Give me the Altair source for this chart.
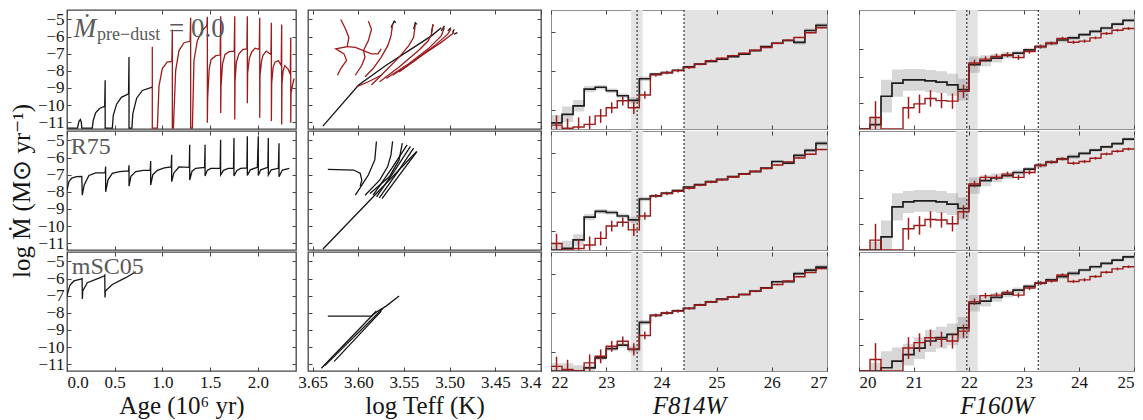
import altair as alt
import pandas as pd

FONT = "Liberation Serif"
INK = "#151515"
RED = "#9d1b1b"
FRAME = "#454545"
LABEL_GRAY = "#5a5a5a"

# ---------------- tick values ----------------
AGE_TICKS = [0.0, 0.5, 1.0, 1.5, 2.0]
MDOT_TICKS = [-5, -6, -7, -8, -9, -10, -11]
TEFF_TICKS = [3.65, 3.60, 3.55, 3.50, 3.45, 3.40]
F814_TICKS = [22, 23, 24, 25, 26, 27]
F160_TICKS = [20, 21, 22, 23, 24, 25]
F814_YTICKS = [0.5, 1.5, 2.5]
F160_YTICKS = [0.47, 0.96, 1.47]

# ---------------- column 1: log Mdot vs age ----------------
AGE_1_BLACK = [0.00, 0.11, 0.125, 0.14, 0.15, 0.155, 0.265, 0.275, 0.30, 0.34, 0.395, 0.40, 0.40,
               0.475, 0.485, 0.52, 0.57, 0.645, 0.65, 0.65, 0.68, 0.69, 0.73, 0.79, 0.894]
MDOT_1_BLACK = [-11.35, -11.35, -10.95, -10.85, -11.0, -11.35, -11.35, -10.9, -10.45, -10.2, -10.07, -8.55, -11.35,
                -11.35, -10.6, -9.95, -9.55, -9.35, -7.2, -11.35, -11.35, -10.5, -9.6, -9.15, -8.95]
AGE_1_RED = [0.894, 0.894, 0.894, 0.947, 0.964, 0.999, 1.05, 1.099, 1.104, 1.104,
             1.115, 1.139, 1.174, 1.226, 1.29, 1.296, 1.296, 1.314, 1.331, 1.366, 1.419, 1.465,
             1.471, 1.471, 1.474, 1.49, 1.51, 1.56, 1.605,
             1.611, 1.611, 1.614, 1.63, 1.656, 1.70, 1.752,
             1.758, 1.758, 1.761, 1.775, 1.803, 1.845, 1.885,
             1.890, 1.890, 1.893, 1.91, 1.936, 1.971, 2.015,
             2.020, 2.020, 2.023, 2.04, 2.054, 2.089, 2.137,
             2.142, 2.142, 2.145, 2.16, 2.18, 2.215, 2.245,
             2.250, 2.250, 2.253, 2.265, 2.282, 2.317, 2.34,
             2.345, 2.345, 2.348, 2.365, 2.38]
MDOT_1_RED = [-8.95, -6.6, -11.35, -11.35, -8.9, -7.87, -7.49, -7.45, -5.6, -11.35,
              -11.35, -7.97, -6.82, -6.36, -6.28, -4.9, -11.35, -11.35, -7.4, -6.24, -5.63, -5.38,
              -4.85, -11.03, -9.60, -7.9, -7.35, -7.12, -7.08,
              -4.81, -10.46, -8.93, -7.6, -7.05, -6.88, -6.85,
              -4.81, -10.84, -8.64, -7.5, -7.0, -6.75, -6.72,
              -4.81, -9.89, -8.16, -7.3, -6.9, -6.68, -6.75,
              -4.9, -10.75, -8.26, -7.4, -7.1, -6.85, -7.05,
              -5.19, -10.94, -8.74, -7.8, -7.5, -7.4, -7.7,
              -5.29, -11.13, -8.74, -8.0, -7.7, -7.9, -8.2,
              -6.05, -11.03, -9.31, -8.8, -8.45]
AGE_2 = [0.0, 0.02, 0.05, 0.10, 0.155, 0.16, 0.18, 0.23, 0.30, 0.40,
         0.405, 0.405, 0.43, 0.475, 0.55, 0.645, 0.65, 0.65, 0.67, 0.72, 0.80, 0.872,
         0.877, 0.877, 0.90, 0.947, 1.02, 1.092, 1.097, 1.097, 1.12, 1.174, 1.281,
         1.286, 1.286, 1.31, 1.349, 1.442, 1.447, 1.447, 1.47, 1.506, 1.605,
         1.61, 1.61, 1.64, 1.69, 1.745, 1.75, 1.75, 1.78, 1.82, 1.885,
         1.89, 1.89, 1.92, 1.995, 2.005, 2.005, 2.03, 2.105, 2.11, 2.11, 2.14, 2.215,
         2.222, 2.222, 2.257, 2.33]
MDOT_2 = [-7.9, -7.4, -7.2, -7.12, -7.1, -8.2, -7.6, -7.05, -6.9, -6.88,
          -6.53, -8.0, -7.3, -6.92, -6.82, -6.78, -6.45, -7.67, -7.1, -6.82, -6.75, -6.73,
          -6.2, -7.61, -7.0, -6.75, -6.6, -6.55, -5.84, -7.41, -6.9, -6.55, -6.57,
          -5.25, -7.31, -6.8, -6.63, -6.57, -5.25, -7.08, -6.75, -6.63, -6.63,
          -4.96, -7.02, -6.75, -6.63, -6.63, -4.86, -7.08, -6.75, -6.63, -6.6,
          -4.76, -7.05, -6.72, -6.57, -4.76, -7.05, -6.72, -6.57, -4.86, -7.02, -6.72, -6.63,
          -5.16, -7.12, -6.73, -6.63]
AGE_3 = [0.0, 0.004, 0.03, 0.073, 0.143, 0.158, 0.161, 0.165, 0.213, 0.335, 0.388, 0.396, 0.398,
         0.402, 0.475, 0.615, 0.72]
MDOT_3 = [-7.05, -6.92, -6.4, -6.14, -6.04, -6.0, -7.2, -6.73, -6.24, -5.98, -5.85, -5.8, -7.1,
          -6.73, -6.35, -5.95, -5.6]

# ---------------- column 2: log Mdot vs log Teff ----------------
HR1_BLACK = [
    ([3.6387, 3.5996, 3.5695, 3.5447, 3.5199, 3.5092], [-11.23, -8.83, -7.68, -6.82, -5.96, -5.48]),
    ([3.5642, 3.5606, 3.5589], [-5.48, -5.10, -5.19]),
    ([3.5394, 3.5376, 3.5358], [-5.57, -5.19, -5.29]),
    ([3.5199, 3.5181], [-5.77, -5.29]),
    ([3.5092, 3.5057], [-5.67, -5.38]),
    ([3.5021, 3.4986], [-5.67, -5.48]),
    ([3.4968, 3.4950], [-5.77, -5.57]),
    ([3.4950, 3.4915], [-5.86, -5.77]),
]
HR1_RED = [
    ([3.6227, 3.6191, 3.6128, 3.6156, 3.6245, 3.6121, 3.6103, 3.6138, 3.6191],
     [-8.26, -7.87, -7.39, -7.01, -6.72, -6.59, -6.05, -5.57, -5.00]),
    ([3.6121, 3.6032, 3.5943, 3.5855, 3.5784, 3.5748], [-6.59, -6.63, -6.82, -7.01, -7.01, -6.72]),
    ([3.6032, 3.5961, 3.5926, 3.5943, 3.5890, 3.5855, 3.5890], [-8.26, -7.68, -7.20, -6.82, -6.25, -5.57, -5.10]),
    ([3.5926, 3.5837, 3.5748, 3.5677, 3.5642, 3.5624], [-8.35, -7.87, -7.20, -6.53, -5.96, -5.29]),
    ([3.5855, 3.5695, 3.5553, 3.5447, 3.5394, 3.5376], [-8.83, -7.97, -7.20, -6.53, -6.05, -5.29]),
    ([3.5766, 3.5553, 3.5340, 3.5234, 3.5199, 3.5181], [-8.64, -7.78, -6.82, -6.25, -5.86, -5.29]),
    ([3.5695, 3.5447, 3.5234, 3.5092, 3.5057], [-8.45, -7.59, -6.72, -5.96, -5.48]),
    ([3.5624, 3.5376, 3.5163, 3.5021, 3.4986], [-8.26, -7.39, -6.53, -5.86, -5.57]),
    ([3.5553, 3.5305, 3.5092, 3.4950], [-8.07, -7.11, -6.34, -5.77]),
    ([3.6014, 3.5890, 3.5748], [-8.93, -8.64, -8.26]),
]
HR2_BLACK = [
    ([3.6386, 3.5854, 3.5360], [-11.34, -8.39, -5.65]),
    ([3.6333, 3.6050, 3.5979, 3.5961, 3.5979], [-6.69, -6.73, -6.92, -7.32, -7.67]),
    ([3.6032, 3.5961, 3.5890, 3.5819, 3.5801], [-8.20, -7.61, -7.02, -6.14, -5.06]),
    ([3.5926, 3.5766, 3.5678, 3.5642, 3.5624], [-8.20, -7.32, -6.53, -5.85, -5.06]),
    ([3.5872, 3.5660, 3.5553, 3.5518], [-8.10, -7.12, -6.14, -5.16]),
    ([3.5837, 3.5630, 3.5465], [-8.20, -6.60, -5.26]),
    ([3.5800, 3.5600, 3.5429], [-8.30, -6.75, -5.35]),
    ([3.5770, 3.5570, 3.5394], [-8.35, -6.85, -5.45]),
    ([3.5740, 3.5540, 3.5358], [-8.40, -6.95, -5.65]),
]
HR3_BLACK = [
    ([3.6404, 3.5837, 3.5784, 3.5695, 3.5553], [-11.24, -8.10, -7.90, -7.61, -7.02]),
    ([3.6369, 3.5731], [-11.10, -7.75]),
    ([3.6263, 3.5748], [-10.84, -7.90]),
    ([3.6333, 3.5855, 3.5801], [-8.19, -8.19, -7.90]),
]

# ---------------- columns 3-4: luminosity functions (log N per bin) ----------------
BIN_WIDTH = 0.2
F814_BINS = [22.1, 22.3, 22.5, 22.7, 22.9, 23.1, 23.3, 23.5, 23.7, 23.9, 24.1, 24.3, 24.5,
             24.7, 24.9, 25.1, 25.3, 25.5, 25.7, 25.9, 26.1, 26.3, 26.5, 26.7, 26.9]
F814_MODEL = [
    [0.16, 0.38, 0.60, 1.03, 1.08, 0.99, 0.86, 0.74, 1.30, 1.42, 1.46, 1.52, 1.61, 1.68, 1.75, 1.81, 1.87,
     1.94, 2.03, 2.13, 2.22, 2.29, 2.24, 2.55, 2.68],
    [0.0, 0.04, 0.26, 0.85, 1.0, 0.97, 0.88, 0.78, 1.32, 1.40, 1.47, 1.54, 1.63, 1.69, 1.77, 1.83, 1.90,
     1.97, 2.03, 2.12, 2.29, 2.25, 2.45, 2.58, 2.76],
    [0.0, 0.0, 0.0, 0.08, 0.34, 0.58, 0.67, 0.56, 1.26, 1.44, 1.50, 1.56, 1.62, 1.71, 1.79, 1.86, 1.92,
     1.98, 2.07, 2.15, 2.31, 2.31, 2.52, 2.61, 2.69],
]
F814_OBS = [
    [0.10, 0.02, 0.05, 0.12, 0.34, 0.55, 0.73, 0.55, 0.88, 1.40, 1.46, 1.51, 1.59, 1.68, 1.77, 1.83, 1.90,
     1.96, 2.04, 2.11, 2.22, 2.30, 2.37, 2.49, 2.62],
    [0.17, 0.0, 0.04, 0.13, 0.30, 0.62, 0.72, 0.52, 0.88, 1.40, 1.46, 1.52, 1.60, 1.68, 1.76, 1.82, 1.89,
     1.96, 2.04, 2.11, 2.20, 2.28, 2.38, 2.48, 2.60],
    [0.12, 0.04, 0.0, 0.21, 0.38, 0.64, 0.77, 0.56, 0.92, 1.44, 1.50, 1.55, 1.62, 1.71, 1.79, 1.85, 1.92,
     1.98, 2.06, 2.14, 2.24, 2.33, 2.44, 2.55, 2.65],
]
F814_SPREAD = [0.2, 0.2, 0.15, 0.08, 0.06, 0.06, 0.06, 0.08, 0.06, 0.04, 0.04, 0.04, 0.03, 0.03, 0.03,
               0.03, 0.03, 0.03, 0.03, 0.03, 0.04, 0.04, 0.05, 0.05, 0.06]
F814_ERR = [0.25, 0.25, 0.25, 0.22, 0.18, 0.14, 0.12, 0.16, 0.10, 0.05, 0.045, 0.04, 0.035, 0.03, 0.03,
            0.025, 0.025, 0.02, 0.02, 0.02, 0.02, 0.02, 0.015, 0.015, 0.015]
F814_SHADE_LO = [23.45, 24.41]
F814_SHADE_HI = [23.66, 27.0]
F814_DOTTED = [23.56, 24.41]

F160_BINS = [20.1, 20.3, 20.5, 20.7, 20.9, 21.1, 21.3, 21.5, 21.7, 21.9, 22.1, 22.3, 22.5,
             22.7, 22.9, 23.1, 23.3, 23.5, 23.7, 23.9, 24.1, 24.3, 24.5, 24.7, 24.9]
F160_MODEL = [
    [0.0, 0.08, 0.60, 0.84, 0.90, 0.90, 0.88, 0.86, 0.81, 0.72, 1.18, 1.25, 1.30, 1.35, 1.39, 1.45, 1.51,
     1.57, 1.63, 1.67, 1.73, 1.79, 1.85, 1.92, 1.99],
    [0.0, 0.0, 0.24, 0.79, 0.88, 0.90, 0.90, 0.88, 0.84, 0.76, 1.18, 1.27, 1.32, 1.36, 1.42, 1.48, 1.55,
     1.61, 1.67, 1.71, 1.77, 1.83, 1.89, 1.95, 2.03],
    [0.0, 0.0, 0.06, 0.18, 0.30, 0.42, 0.55, 0.61, 0.67, 0.79, 1.24, 1.28, 1.35, 1.41, 1.48, 1.55, 1.61,
     1.67, 1.73, 1.79, 1.85, 1.91, 1.97, 2.03, 2.09],
]
F160_OBS = [
    [0.0, 0.21, 0.0, 0.0, 0.39, 0.46, 0.56, 0.52, 0.51, 0.69, 1.21, 1.28, 1.33, 1.36, 1.31, 1.42, 1.51,
     1.57, 1.66, 1.59, 1.61, 1.67, 1.75, 1.81, 1.84],
    [0.0, 0.18, 0.0, 0.0, 0.39, 0.45, 0.56, 0.55, 0.48, 0.70, 1.21, 1.33, 1.33, 1.39, 1.33, 1.42, 1.55,
     1.61, 1.67, 1.59, 1.62, 1.68, 1.76, 1.81, 1.85],
    [0.0, 0.21, 0.0, 0.0, 0.42, 0.52, 0.61, 0.58, 0.55, 0.73, 1.27, 1.38, 1.39, 1.44, 1.39, 1.52, 1.61,
     1.65, 1.76, 1.64, 1.67, 1.73, 1.81, 1.87, 1.91],
]
F160_SPREAD = [0.0, 0.15, 0.3, 0.25, 0.2, 0.2, 0.2, 0.2, 0.2, 0.2, 0.15, 0.1, 0.08, 0.06, 0.05, 0.04,
               0.04, 0.04, 0.04, 0.04, 0.03, 0.03, 0.03, 0.03, 0.03]
F160_ERR = [0.3, 0.3, 0.3, 0.3, 0.2, 0.17, 0.15, 0.14, 0.14, 0.12, 0.06, 0.05, 0.05, 0.045, 0.045, 0.04,
            0.035, 0.03, 0.03, 0.03, 0.03, 0.025, 0.025, 0.025, 0.025]
F160_SHADE_LO = [21.76, 23.28]
F160_SHADE_HI = [22.16, 25.0]
F160_DOTTED = [21.96, 23.26]

YTITLE = "log \u1E40 (M\u2299 yr\u207B\u00B9)"

W1, W2, W3, W4, H = 229, 233, 276, 275, 119


def ax(orient, values, labels=False, title=None, fmt=None, label_expr=None, italic=False):
    kw = dict(orient=orient, values=values, offset=-4, tickSize=4, tickWidth=1, tickColor=FRAME,
              domain=False, grid=False, labels=labels, zindex=1)
    if labels:
        kw.update(labelFont=FONT, labelFontSize=17, labelColor=INK, labelPadding=3)
        if fmt:
            kw["format"] = fmt
        if label_expr:
            kw["labelExpr"] = label_expr
    if title:
        kw.update(title=title, titleFont=FONT, titleFontSize=25, titleFontWeight="normal",
                  titleColor=INK, titlePadding=3)
        if italic:
            kw["titleFontStyle"] = "italic"
    else:
        kw["title"] = None
    return alt.Axis(**kw)


def seg_df(segments):
    recs = []
    for s, (xs, ys, col) in enumerate(segments):
        for i, (a, b) in enumerate(zip(xs, ys)):
            recs.append({"x": a, "y": b, "i": i, "s": s, "c": col})
    return pd.DataFrame(recs)


def text_layer(txt, xv, yv, xs, ys, size, italic=False):
    mk = dict(font=FONT, fontSize=size, color=LABEL_GRAY, align="left", baseline="alphabetic")
    if italic:
        mk["fontStyle"] = "italic"
    return alt.Chart(pd.DataFrame({"t": [txt]})).mark_text(**mk).encode(
        x=alt.XDatum(xv, scale=xs, axis=None),
        y=alt.YDatum(yv, scale=ys, axis=None),
        text="t:N",
    )


def curve_panel(segments, xs, ys, xticks, width, row, xtitle, xfmt=None, xexpr=None,
                ylabels=True, texts=()):
    bottom = row == 2
    xa = ax("bottom", xticks, labels=bottom, title=xtitle if bottom else None, fmt=xfmt, label_expr=xexpr)
    ya = ax("left", MDOT_TICKS, labels=ylabels, title=YTITLE if (ylabels and row == 1) else None, fmt="d")
    df = seg_df(segments)
    lines = alt.Chart(df).mark_line(strokeWidth=1.3, clip=True).encode(
        x=alt.X("x:Q", scale=xs, axis=xa),
        y=alt.Y("y:Q", scale=ys, axis=ya),
        color=alt.Color("c:N", scale=None),
        detail="s:N",
        order="i:Q",
    )
    ticks = alt.Chart(df.head(1)).mark_point(opacity=0).encode(
        x=alt.X("x:Q", scale=xs, axis=ax("top", xticks)),
        y=alt.Y("y:Q", scale=ys, axis=ax("right", MDOT_TICKS)),
    )
    layers = [lines] + [text_layer(*t[:3], xs, ys, *t[3:]) for t in texts] + [ticks]
    return alt.layer(*layers).resolve_axis(x="independent", y="independent").properties(
        width=width, height=H)


def lf_panel(bins, model, spread, obs, err, shade_lo, shade_hi, dotted, xdom, ydom, xticks, yticks,
             width, row, title):
    bottom = row == 2
    xs = alt.Scale(domain=xdom, nice=False, zero=False)
    ys = alt.Scale(domain=ydom, nice=False, zero=False)
    half = BIN_WIDTH / 2
    edges = [round(b - half, 3) for b in bins] + [round(bins[-1] + half, 3)]
    m_ext = list(model) + [model[-1]]
    s_ext = list(spread) + [spread[-1]]
    o_ext = list(obs) + [obs[-1]]
    dfm = pd.DataFrame({"x": edges, "y": m_ext,
                        "lo": [m - s for m, s in zip(m_ext, s_ext)],
                        "hi": [m + s for m, s in zip(m_ext, s_ext)]})
    dfo = pd.DataFrame({"x": edges, "y": o_ext})
    dfe = pd.DataFrame({"x": bins, "lo": [o - e for o, e in zip(obs, err)],
                        "hi": [o + e for o, e in zip(obs, err)], "o": obs})
    dfe = dfe[dfe["o"] > 0]
    dfs = pd.DataFrame({"a": shade_lo, "b": shade_hi})
    dfd = pd.DataFrame({"x": dotted})

    xa = ax("bottom", xticks, labels=bottom, title=title if bottom else None, fmt="d", italic=True)
    ya = ax("left", yticks)

    shade = alt.Chart(dfs).mark_rect(color="#e3e3e3").encode(
        x=alt.X("a:Q", scale=xs, axis=None), x2="b:Q")
    band = alt.Chart(dfm).mark_area(interpolate="step-after", color="#7a7a7a", opacity=0.3,
                                    clip=True).encode(
        x=alt.X("x:Q", scale=xs, axis=None),
        y=alt.Y("lo:Q", scale=ys, axis=None), y2="hi:Q")
    mline = alt.Chart(dfm).mark_line(interpolate="step-after", color="#1e1e1e", strokeWidth=1.7,
                                     clip=True).encode(
        x=alt.X("x:Q", scale=xs, axis=xa),
        y=alt.Y("y:Q", scale=ys, axis=ya))
    oline = alt.Chart(dfo).mark_line(interpolate="step-after", color=RED, strokeWidth=1.4,
                                     clip=True).encode(
        x=alt.X("x:Q", scale=xs, axis=None),
        y=alt.Y("y:Q", scale=ys, axis=None))
    ebar = alt.Chart(dfe).mark_rule(color=RED, strokeWidth=1.5, clip=True).encode(
        x=alt.X("x:Q", scale=xs, axis=None),
        y=alt.Y("lo:Q", scale=ys, axis=None), y2="hi:Q")
    dots = alt.Chart(dfd).mark_rule(color="#333333", strokeDash=[2, 2], strokeWidth=1.2).encode(
        x=alt.X("x:Q", scale=xs, axis=None))
    ticks = alt.Chart(dfd.head(1)).mark_point(opacity=0).encode(
        x=alt.X("x:Q", scale=xs, axis=ax("top", xticks)))
    return alt.layer(shade, band, mline, oline, ebar, dots, ticks).resolve_axis(
        x="independent", y="independent").properties(
        width=width, height=H, view=alt.ViewBackground(stroke="#8f8f8f", strokeWidth=1))


# ---- column 1 ----
age_x = alt.Scale(domain=[0, 2.4], nice=False, zero=False)
mdot_y = alt.Scale(domain=[-11.4, -4.45], nice=False, zero=False)
teff_x = alt.Scale(domain=[3.40, 3.655], reverse=True, nice=False, zero=False)

c1r1 = curve_panel([(AGE_1_BLACK, MDOT_1_BLACK, INK), (AGE_1_RED, MDOT_1_RED, RED)],
                   age_x, mdot_y, AGE_TICKS, W1, 0, "Age (10\u2076 yr)", xfmt=".1f",
                   texts=[("\u1E40", 0.07, -6.05, 27, True),
                          ("pre\u2212dust", 0.315, -6.2, 18),
                          ("= 0.0", 1.07, -6.05, 27)])
c1r2 = curve_panel([(AGE_2, MDOT_2, INK)], age_x, mdot_y, AGE_TICKS, W1, 1, "Age (10\u2076 yr)",
                   xfmt=".1f", texts=[("R75", 0.04, -5.81, 24)])
c1r3 = curve_panel([(AGE_3, MDOT_3, INK)], age_x, mdot_y, AGE_TICKS, W1, 2, "Age (10\u2076 yr)",
                   xfmt=".1f", texts=[("mSC05", 0.05, -5.72, 24)])

# ---- column 2 ----
teff_expr = "datum.value < 3.41 ? '3.4' : format(datum.value, '.2f')"
c2r1 = curve_panel([(t, m, INK) for t, m in HR1_BLACK] + [(t, m, RED) for t, m in HR1_RED],
                   teff_x, mdot_y, TEFF_TICKS, W2, 0, "log Teff (K)", xexpr=teff_expr, ylabels=False)
c2r2 = curve_panel([(t, m, INK) for t, m in HR2_BLACK], teff_x, mdot_y, TEFF_TICKS, W2, 1,
                   "log Teff (K)", xexpr=teff_expr, ylabels=False)
c2r3 = curve_panel([(t, m, INK) for t, m in HR3_BLACK], teff_x, mdot_y, TEFF_TICKS, W2, 2,
                   "log Teff (K)", xexpr=teff_expr, ylabels=False)

# ---- columns 3, 4 ----
c3 = [lf_panel(F814_BINS, F814_MODEL[r], F814_SPREAD, F814_OBS[r], F814_ERR, F814_SHADE_LO,
               F814_SHADE_HI, F814_DOTTED, [22, 27], [0, 3.08], F814_TICKS, F814_YTICKS, W3, r, "F814W")
      for r in range(3)]
c4 = [lf_panel(F160_BINS, F160_MODEL[r], F160_SPREAD, F160_OBS[r], F160_ERR, F160_SHADE_LO,
               F160_SHADE_HI, F160_DOTTED, [20, 25], [0, 2.18], F160_TICKS, F160_YTICKS, W4, r, "F160W")
      for r in range(3)]

col1 = alt.vconcat(c1r1, c1r2, c1r3, spacing=2, bounds="flush")
col2 = alt.vconcat(c2r1, c2r2, c2r3, spacing=2, bounds="flush")
col3 = alt.vconcat(*c3, spacing=2, bounds="flush")
col4 = alt.vconcat(*c4, spacing=2, bounds="flush")

left = alt.hconcat(col1, col2, spacing=-1)
right = alt.hconcat(col3, col4, spacing=30)

chart = alt.hconcat(left, right, spacing=7).properties(padding=0, background="white").configure(
    font=FONT
).configure_view(stroke=FRAME, strokeWidth=1.3)

chart.save("out.html", embed_options={"renderer": "svg", "actions": False})
